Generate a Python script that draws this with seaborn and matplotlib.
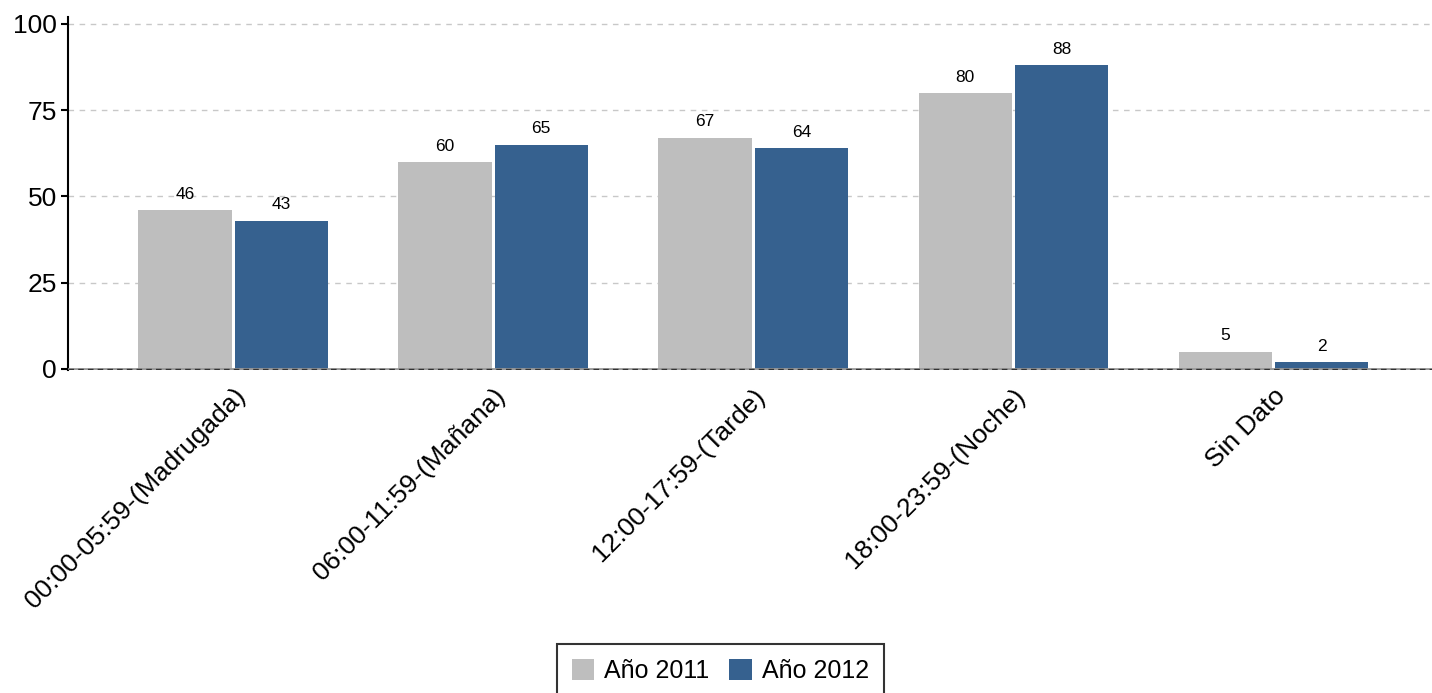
import pandas as pd
import matplotlib
matplotlib.use("Agg")
import matplotlib.pyplot as plt
import seaborn as sns

# data
franjas = ["00:00-05:59-(Madrugada)", "06:00-11:59-(Mañana)", "12:00-17:59-(Tarde)",
           "18:00-23:59-(Noche)", "Sin Dato"]
anio_2011 = [46, 60, 67, 80, 5]
anio_2012 = [43, 65, 64, 88, 2]
series = ["Año 2011", "Año 2012"]
colores = ["#BEBEBE", "#36618F"]

df = pd.DataFrame({
    "Franja": franjas * 2,
    "Valor": anio_2011 + anio_2012,
    "Serie": [series[0]] * len(franjas) + [series[1]] * len(franjas),
})

sns.set_theme(style="white")
plt.rcParams["font.family"] = ["Liberation Sans", "DejaVu Sans"]
plt.rcParams["text.color"] = "black"
plt.rcParams["xtick.color"] = "black"
plt.rcParams["ytick.color"] = "black"

fig = plt.figure(figsize=(14.32, 6.93), dpi=100)
ax = fig.add_axes([68 / 1432, 1 - 370 / 693, 1 - 68 / 1432, (370 - 17) / 693])

sns.barplot(data=df, x="Franja", y="Valor", hue="Serie", palette=colores,
            width=0.74, gap=0.03, saturation=1, linewidth=0, ax=ax, legend=True)

for cont in ax.containers:
    ax.bar_label(cont, fmt="%d", padding=6, fontsize=12.5, color="black")

ax.set_xlim(-0.635, 4.61)
ax.set_ylim(-0.3, 102)
ax.set_yticks([0, 25, 50, 75, 100])
ax.yaxis.grid(True, linestyle=(0, (4, 4)), color="#C8C8C8", linewidth=1)
ax.set_axisbelow(True)
ax.axhline(0, color="#9A9A9A", linewidth=2, zorder=3)
ax.axhline(0, color="#333333", linewidth=1, linestyle=(0, (4, 3)), zorder=4)

for side in ["top", "right", "bottom"]:
    ax.spines[side].set_visible(False)
ax.spines["left"].set_color("black")
ax.spines["left"].set_linewidth(1.5)
ax.tick_params(axis="y", left=True, length=5, width=1.5, color="black", labelsize=19, pad=3)
ax.tick_params(axis="x", bottom=False, labelsize=19, pad=4)
plt.setp(ax.get_xticklabels(), rotation=45, ha="right", rotation_mode="anchor")
ax.set_xlabel("")
ax.set_ylabel("")

handles, labels = ax.get_legend_handles_labels()
ax.get_legend().remove()
leg = fig.legend(handles, labels, loc="lower center", bbox_to_anchor=(0.503, -0.025), ncol=2,
                 fontsize=18, frameon=True, fancybox=False, edgecolor="black",
                 handlelength=0.9, handleheight=0.9, handletextpad=0.4, columnspacing=0.8,
                 borderpad=0.6)
leg.get_frame().set_linewidth(1.5)

fig.savefig("out.png", dpi=100)
